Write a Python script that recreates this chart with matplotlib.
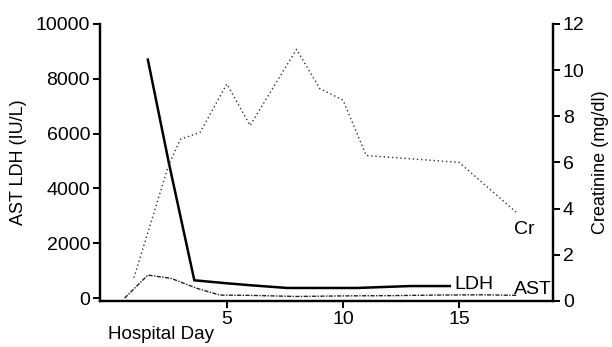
import matplotlib
matplotlib.use("Agg")
import matplotlib.pyplot as plt
from matplotlib import font_manager

names = {f.name for f in font_manager.fontManager.ttflist}
fam = ["Liberation Sans Narrow", "Liberation Sans", "DejaVu Sans"]
fam = [f for f in fam if f in names] + ["DejaVu Sans"]
plt.rcParams["font.family"] = fam

# Data
cr_day = [1, 2.5, 3, 3.85, 5, 6, 8, 9, 10, 11, 15, 17.5]
cr_val = [1.0, 5.9, 7.0, 7.3, 9.4, 7.6, 10.9, 9.2, 8.7, 6.3, 6.0, 3.8]

ldh_day = [1.6, 2.5, 3.6, 5, 6, 7.6, 10.6, 12.9, 14.6]
ldh_val = [8700, 4950, 650, 540, 470, 370, 370, 440, 440]

ast_day = [0.6, 1.6, 2.6, 3.7, 4.7, 6, 8, 10, 12, 14, 16, 17.5]
ast_val = [0, 840, 720, 360, 110, 100, 60, 80, 90, 110, 120, 100]

left_ticks = [0, 2000, 4000, 6000, 8000, 10000]
right_ticks = [0, 2, 4, 6, 8, 10, 12]
x_ticks = [5, 10, 15]

fig = plt.figure(figsize=(6.12, 3.47), dpi=100)
ax = fig.add_axes([0.163, 0.133, 0.741, 0.798])
ax2 = ax.twinx()

ax.plot(ldh_day, ldh_val, color="black", lw=1.8, solid_joinstyle="miter")
ax.plot(ast_day, ast_val, color="#222222", lw=1.0, linestyle=(0, (3, 1, 1, 1)))
ax2.plot(cr_day, cr_val, color="#333333", lw=1.0, linestyle=(0, (1, 2)))

ax.set_xlim(-0.47, 19.05)
ax.set_ylim(-100, 10000)
ax2.set_ylim(0, 12)

fs = 14
ax.set_xticks(x_ticks)
ax.set_yticks(left_ticks)
ax2.set_yticks(right_ticks)
for a in (ax, ax2):
    a.spines["top"].set_visible(False)
    for s in a.spines.values():
        s.set_linewidth(1.6)
ax.tick_params(axis="both", labelsize=fs, width=1.4, length=5, direction="out", pad=2)
ax2.tick_params(axis="y", labelsize=fs, width=1.4, length=5, direction="out", pad=2)

ax.set_ylabel("AST LDH (IU/L)", fontsize=13, labelpad=6)
ax2.set_ylabel("Creatinine (mg/dl)", fontsize=13, labelpad=5)

ax.text(0.018, -0.12, "Hospital Day", transform=ax.transAxes, fontsize=13.5,
        ha="left", va="center")

ax.text(14.8, 500, "LDH", fontsize=fs, ha="left", va="center")
ax.text(19.0, 20, "AST", fontsize=fs, ha="right", va="bottom")
ax2.text(17.35, 3.1, "Cr", fontsize=fs, ha="left", va="center")

fig.savefig("out.png", dpi=100)
